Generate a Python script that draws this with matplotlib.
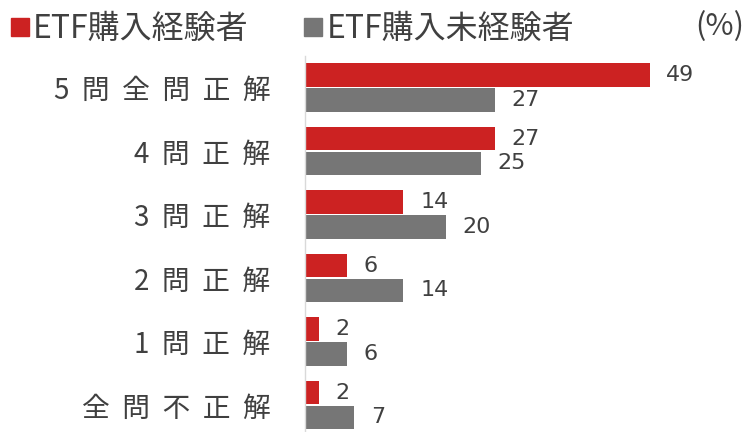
import numpy as np
import matplotlib
matplotlib.use('Agg')
import matplotlib.pyplot as plt
from matplotlib.lines import Line2D

plt.rcParams['font.family'] = ['Noto Sans CJK JP', 'DejaVu Sans']

# data
categories = ['5問全問正解', '4問正解', '3問正解', '2問正解', '1問正解', '全問不正解']
experienced = [49, 27, 14, 6, 2, 2]
not_experienced = [27, 25, 20, 14, 6, 7]
series_names = ['ETF購入経験者', 'ETF購入未経験者']

red = '#CC2222'
gray = '#767676'
text_col = '#404040'

fig = plt.figure(figsize=(7.49, 4.32), dpi=100)
ax = fig.add_axes([305 / 749, 0, 1 - 305 / 749 - 22 / 749, (432 - 55.75) / 432])

y = np.arange(len(categories))
h = 0.37
b1 = ax.barh(y - h / 2 - 0.01, experienced, height=h, color=red)
b2 = ax.barh(y + h / 2 + 0.01, not_experienced, height=h, color=gray)

# value labels
for bars, vals in [(b1, experienced), (b2, not_experienced)]:
    for bar, v in zip(bars, vals):
        ax.annotate(str(v), (bar.get_width(), bar.get_y() + bar.get_height() / 2),
                    xytext=(12, 0), textcoords='offset points', va='center', ha='left',
                    fontsize=16, color=text_col, family='DejaVu Sans')

ax.set_xlim(0, 60)
ax.set_ylim(5.425, -0.5)
ax.set_yticks(y)
# spaced out labels
ax.set_yticklabels(['  '.join(c) for c in categories], fontsize=20, color=text_col)
ax.tick_params(axis='y', length=0, pad=25)
ax.set_xticks([])
for s in ['top', 'right', 'bottom']:
    ax.spines[s].set_visible(False)
ax.spines['left'].set_color('#D9D9D9')
ax.spines['left'].set_linewidth(1)

# legend
handles = [Line2D([], [], marker='s', color=red, linestyle='none', markersize=13),
           Line2D([], [], marker='s', color=gray, linestyle='none', markersize=13)]
fig.legend(handles, series_names, loc='center left', bbox_to_anchor=(10 / 749, 1 - 29 / 432),
           ncol=2, frameon=False, fontsize=23, handlelength=0.6, handletextpad=0.1,
           columnspacing=1.75, labelcolor=text_col, borderaxespad=0, borderpad=0)
fig.text(744 / 749, 1 - 27 / 432, '(%)', ha='right', va='center', fontsize=22, color=text_col)

fig.savefig('out.png', dpi=100)
